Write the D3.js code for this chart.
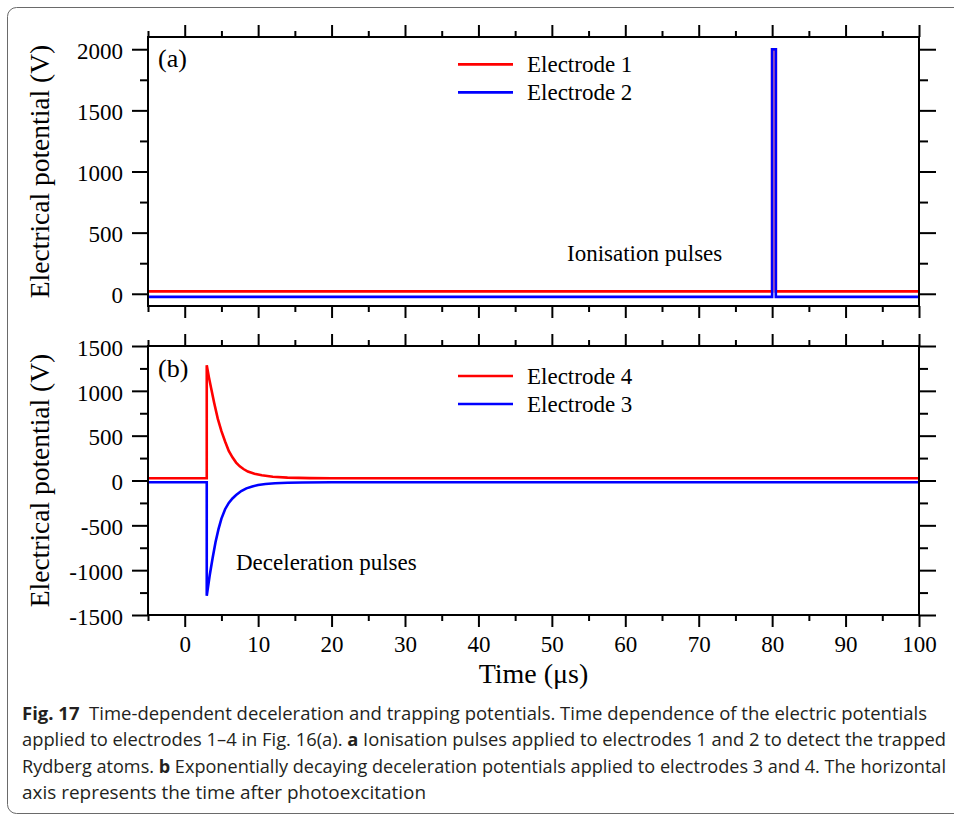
<!DOCTYPE html>
<html>
<head>
<meta charset="utf-8">
<script src="https://cdn.jsdelivr.net/npm/d3@7"></script>
<style>
  body { margin: 0; background: #fff; }
  svg { display: block; }
</style>
</head>
<body>
<svg id="chart" width="954" height="818"></svg>
<script>
// ---- data ----
// Panel (a): ionisation pulses (time in µs, potential in V)
const ionTime = [-5, 80, 80, 80.5, 80.5, 100];
const electrode1V = [20, 20, 2000, 2000, 20, 20];
const electrode2V = [-25, -25, 2000, 2000, -25, -25];

// Panel (b): exponentially decaying deceleration pulses
const decelTime4 = [-5, 3, 3, 3.3, 3.6, 4.0, 4.5, 5.0, 5.5, 6.0, 6.5, 7.0, 7.5, 8.0, 8.6, 9.5, 10.5, 12, 14, 17, 20, 100];
const electrode4V = [25, 25, 1285, 1150, 1030, 870, 690, 550, 435, 330, 258, 200, 158, 128, 100, 75, 58, 42, 32, 27, 25, 25];
const decelTime3 = [-5, 3, 3, 3.4, 3.8, 4.2, 4.6, 5.0, 5.5, 6.0, 6.5, 7.0, 7.7, 8.4, 9.2, 10, 11, 12.3, 14, 16, 20, 100];
const electrode3V = [-20, -20, -1285, -1060, -865, -685, -542, -425, -320, -250, -200, -162, -118, -88, -66, -50, -39, -31, -25, -22, -20, -20];

// Axis ticks
const timeMajorTicks = [0, 10, 20, 30, 40, 50, 60, 70, 80, 90, 100];
const timeMinorTicks = [-5, 5, 15, 25, 35, 45, 55, 65, 75, 85, 95];
const voltMajorTicksA = [0, 500, 1000, 1500, 2000];
const voltMinorTicksA = [250, 750, 1250, 1750];
const voltMajorTicksB = [-1500, -1000, -500, 0, 500, 1000, 1500];
const voltMinorTicksB = [-1250, -750, -250, 250, 750, 1250];

const legendA = ["Electrode 1", "Electrode 2"];
const legendB = ["Electrode 4", "Electrode 3"];

const captionLines = [
  [["Fig. 17", true], ["  Time-dependent deceleration and trapping potentials. Time dependence of the electric potentials", false]],
  [["applied to electrodes 1–4 in Fig. 16(a). ", false], ["a", true], [" Ionisation pulses applied to electrodes 1 and 2 to detect the trapped", false]],
  [["Rydberg atoms. ", false], ["b", true], [" Exponentially decaying deceleration potentials applied to electrodes 3 and 4. The horizontal", false]],
  [["axis represents the time after photoexcitation", false]]
];

// ---- drawing ----
const svg = d3.select("#chart");
const serif = "'Liberation Serif', 'Times New Roman', serif";
const RED = "#ff0000", BLUE = "#0000ff";

// outer figure frame
svg.append("rect")
  .attr("x", 7.5).attr("y", 7.5)
  .attr("width", 970).attr("height", 806)
  .attr("rx", 9)
  .attr("fill", "none").attr("stroke", "#6a6a6a").attr("stroke-width", 1);

const left = 148, right = 919;
const x = d3.scaleLinear().domain([-5, 100]).range([left, right]);

function drawPanel(opt) {
  const y = d3.scaleLinear().domain(opt.yDomain).range([opt.bottom, opt.top]);
  const g = svg.append("g");

  const styleAxis = sel => {
    sel.select(".domain").remove();
    sel.selectAll(".tick line").attr("stroke", "#000").attr("stroke-width", 2);
    sel.selectAll(".tick text")
      .attr("font-family", serif).attr("font-size", 23).attr("fill", "#000");
  };

  // left axis (labelled)
  g.append("g").attr("transform", `translate(${left},0)`)
    .call(d3.axisLeft(y).tickValues(opt.major).tickSize(16).tickPadding(9)
      .tickFormat(d => String(d)))
    .call(styleAxis)
    .selectAll(".tick text").attr("dy", "0.4em");
  g.append("g").attr("transform", `translate(${left},0)`)
    .call(d3.axisLeft(y).tickValues(opt.minor).tickSize(8).tickFormat(""))
    .call(styleAxis);
  // right axis
  g.append("g").attr("transform", `translate(${right},0)`)
    .call(d3.axisRight(y).tickValues(opt.major).tickSize(17).tickFormat(""))
    .call(styleAxis);
  g.append("g").attr("transform", `translate(${right},0)`)
    .call(d3.axisRight(y).tickValues(opt.minor).tickSize(9).tickFormat(""))
    .call(styleAxis);
  // top axis
  g.append("g").attr("transform", `translate(0,${opt.top})`)
    .call(d3.axisTop(x).tickValues(timeMajorTicks).tickSize(12).tickFormat(""))
    .call(styleAxis);
  g.append("g").attr("transform", `translate(0,${opt.top})`)
    .call(d3.axisTop(x).tickValues(timeMinorTicks).tickSize(6).tickFormat(""))
    .call(styleAxis);
  // bottom axis
  g.append("g").attr("transform", `translate(0,${opt.bottom})`)
    .call(d3.axisBottom(x).tickValues(timeMajorTicks).tickSize(12).tickPadding(9)
      .tickFormat(opt.xLabels ? (d => String(d)) : ""))
    .call(styleAxis);
  g.append("g").attr("transform", `translate(0,${opt.bottom})`)
    .call(d3.axisBottom(x).tickValues(timeMinorTicks).tickSize(6).tickFormat(""))
    .call(styleAxis);

  // series
  const line = d3.line().x(d => x(d[0])).y(d => y(d[1]));
  opt.series.forEach(s => {
    const pts = s.t.map((t, i) => [t, s.v[i]]);
    g.append("path").datum(pts)
      .attr("d", line)
      .attr("fill", "none")
      .attr("stroke", s.color)
      .attr("stroke-width", 2.6)
      .attr("stroke-linejoin", "miter");
  });

  // plot frame
  g.append("rect")
    .attr("x", left).attr("y", opt.top)
    .attr("width", right - left).attr("height", opt.bottom - opt.top)
    .attr("fill", "none").attr("stroke", "#000").attr("stroke-width", 2);

  // y title
  g.append("text")
    .attr("transform", `translate(49,${(opt.top + opt.bottom) / 2}) rotate(-90)`)
    .attr("text-anchor", "middle")
    .attr("font-family", serif).attr("font-size", 27.5)
    .text("Electrical potential (V)");

  // panel tag
  g.append("text")
    .attr("x", 158).attr("y", opt.tagY)
    .attr("font-family", serif).attr("font-size", 26)
    .text(opt.tag);

  // legend
  opt.legend.forEach((name, i) => {
    const ly = opt.legendY + i * 28;
    g.append("line")
      .attr("x1", 458).attr("x2", 513).attr("y1", ly).attr("y2", ly)
      .attr("stroke", opt.series[i].color).attr("stroke-width", 2.7);
    g.append("text")
      .attr("x", 527).attr("y", ly + 8)
      .attr("font-family", serif).attr("font-size", 23)
      .text(name);
  });

  // annotation
  g.append("text")
    .attr("x", opt.note.x).attr("y", opt.note.y)
    .attr("font-family", serif).attr("font-size", 23)
    .text(opt.note.text);

  return y;
}

drawPanel({
  top: 37, bottom: 306,
  yDomain: [-100, 2100],
  major: voltMajorTicksA, minor: voltMinorTicksA,
  xLabels: false,
  series: [
    { t: ionTime, v: electrode1V, color: RED },
    { t: ionTime, v: electrode2V, color: BLUE }
  ],
  tag: "(a)", tagY: 67,
  legend: legendA, legendY: 64.3,
  note: { text: "Ionisation pulses", x: 567, y: 261 }
});

drawPanel({
  top: 346, bottom: 615,
  yDomain: [-1500, 1500],
  major: voltMajorTicksB, minor: voltMinorTicksB,
  xLabels: true,
  series: [
    { t: decelTime4, v: electrode4V, color: RED },
    { t: decelTime3, v: electrode3V, color: BLUE }
  ],
  tag: "(b)", tagY: 377,
  legend: legendB, legendY: 376,
  note: { text: "Deceleration pulses", x: 236, y: 569.5 }
});

// x title
svg.append("text")
  .attr("x", (left + right) / 2).attr("y", 683)
  .attr("text-anchor", "middle")
  .attr("font-family", serif).attr("font-size", 28)
  .text("Time (μs)");

// caption
const captionEnds = [927, 946, 946, 426];
const captionBase = [719.5, 746, 772.5, 799];
captionLines.forEach((parts, i) => {
  const t = svg.append("text")
    .attr("x", 22).attr("y", captionBase[i])
    .attr("font-family", "'Open Sans', 'Noto Sans', sans-serif")
    .attr("font-size", 17.5)
    .attr("fill", "#231f20")
    .attr("xml:space", "preserve")
    .style("white-space", "pre");
  parts.forEach(([txt, bold]) => {
    t.append("tspan").attr("font-weight", bold ? 700 : 400).text(txt);
  });
  t.attr("textLength", captionEnds[i] - 22).attr("lengthAdjust", "spacingAndGlyphs");
});
</script>
</body>
</html>
